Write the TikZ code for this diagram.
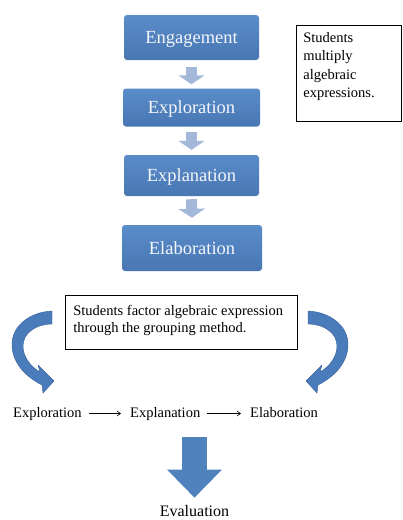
\documentclass[tikz,border=0pt]{standalone}
\usepackage{fontspec}
\setmainfont{LiberationSerif}[Extension=.ttf, UprightFont=*-Regular, BoldFont=*-Bold]
\usetikzlibrary{arrows.meta,calc}

\definecolor{stagetop}{HTML}{5A8CC9}
\definecolor{stagebot}{HTML}{4877B3}
\definecolor{stagetext}{HTML}{F4F6FA}
\definecolor{linkblue}{HTML}{A4B9DA}
\definecolor{bigblue}{HTML}{4F81BD}
\definecolor{curveblue}{HTML}{4A7BBA}
\definecolor{curveedge}{HTML}{345F9A}

\begin{document}
\begin{tikzpicture}[x=1pt,y=-1pt,
  stage/.style={rounded corners=3pt, top color=stagetop, bottom color=stagebot,
    text=stagetext, font=\fontsize{18.5}{22}\selectfont,
    text height=12.6pt, text depth=0pt, inner sep=0pt},
  link/.style={draw=linkblue, line width=11pt, -{Triangle[width=26pt,length=9pt]}},
  note/.style={draw=black, line width=0.8pt, fill=white, anchor=north west},
  rowtext/.style={inner sep=0pt, font=\fontsize{14.5}{17}\selectfont, anchor=base west},
  flow/.style={draw=black, line width=0.6pt, -{Straight Barb[length=3.5pt,width=5pt]},
    shorten <=7pt, shorten >=9pt},
  bigarrow/.style={draw=bigblue, line width=25pt, -{Triangle[width=53pt,length=28pt]}},
  curvedblock/.style={fill=curveblue, draw=curveedge, line width=0.4pt, line join=round}]

  % page frame
  \fill[white] (0,0) rectangle (403,520);
  \useasboundingbox (0,0) rectangle (403,520);

  % stages of the first cycle
  \node[stage, minimum width=135pt, minimum height=45pt] (eng) at (191.5,37.5) {Engagement};
  \node[stage, minimum width=137pt, minimum height=38pt] (exr) at (191.5,107.5) {Exploration};
  \node[stage, minimum width=135pt, minimum height=41pt] (exn) at (191.5,175.5) {Explanation};
  \node[stage, minimum width=140pt, minimum height=46pt] (ela) at (192,248) {Elaboration};

  \draw[link] ([yshift=-7pt]eng.south) -- ([yshift=4pt]exr.north);
  \draw[link] ([yshift=-5pt]exr.south) -- ([yshift=5pt]exn.north);
  \draw[link] ([yshift=-3pt]exn.south) -- ([yshift=7pt]ela.north);

  % side note of the first cycle
  \node[note, minimum width=105pt, minimum height=96pt, inner xsep=7pt, inner ysep=7pt]
    (note1) at (296,25)
    {\parbox[c][82pt][t]{91pt}{\raggedright\fontsize{14.5}{18.3}\selectfont
      Students\\multiply\\algebraic\\expressions.}};

  % note of the second cycle
  \node[note, minimum width=232pt, minimum height=54pt, inner xsep=8pt, inner ysep=10pt]
    (note2) at (65,295)
    {\parbox[c][34pt][t]{216pt}{\raggedright\fontsize{14.5}{17}\selectfont
      Students factor algebraic expression\\through the grouping method.}};

  % curved block arrows on both sides
  \path[curvedblock] (52,311) .. controls (30,312) and (11,326) .. (12,346)
    .. controls (13,365) and (28,378) .. (42,385) -- (43,393) -- (54,381)
    -- (38,365) -- (40,372) .. controls (31,367) and (23,357) .. (23,346)
    .. controls (23,333) and (36,324) .. (52,324) -- cycle;
  \begin{scope}[xshift=360pt, xscale=-1]
    \path[curvedblock] (52,311) .. controls (30,312) and (11,326) .. (12,346)
      .. controls (13,365) and (28,378) .. (42,385) -- (43,393) -- (54,381)
      -- (38,365) -- (40,372) .. controls (31,367) and (23,357) .. (23,346)
      .. controls (23,333) and (36,324) .. (52,324) -- cycle;
  \end{scope}

  % second cycle as a row
  \node[rowtext] (r1) at (13,417) {Exploration};
  \node[rowtext] (r2) at (130,417) {Explanation};
  \node[rowtext] (r3) at (250,417) {Elaboration};
  \draw[flow] (r1.east) -- (r2.west);
  \draw[flow] (r2.east) -- (r2.east -| r3.west);

  % final stage
  \node[inner sep=0pt, font=\fontsize{16}{19}\selectfont, anchor=base] (eval) at (194.5,516) {Evaluation};
  \coordinate (evaltop) at (194.5,437);
  \draw[bigarrow] (evaltop) -- ([yshift=7pt]eval.north);
\end{tikzpicture}
\end{document}
